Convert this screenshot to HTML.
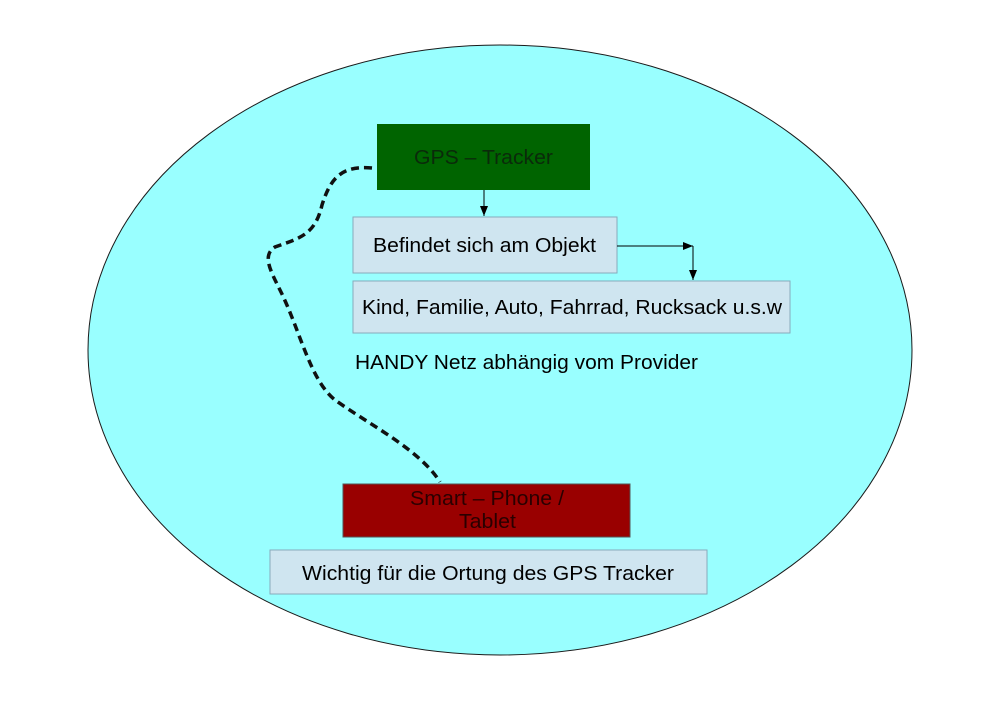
<!DOCTYPE html>
<html><head><style>
body{margin:0;width:990px;height:700px;background:#fff;overflow:hidden;font-family:"Liberation Sans",sans-serif}
</style></head><body>
<svg width="990" height="700" xmlns="http://www.w3.org/2000/svg" font-family="Liberation Sans, sans-serif">
<defs><marker id="a" markerWidth="10" markerHeight="8" refX="10" refY="4" orient="auto" markerUnits="userSpaceOnUse"><path d="M0,0 L10,4 L0,8z" fill="#000"/></marker></defs>
<ellipse cx="500" cy="350" rx="412" ry="305" fill="#99ffff" stroke="#1a1a1a" stroke-width="1"/>
<rect x="377" y="124" width="213" height="66" fill="#006400"/>
<text x="414" y="164" font-size="20" textLength="139" lengthAdjust="spacingAndGlyphs" fill="#0a2a0a">GPS – Tracker</text>
<line x1="484" y1="190" x2="484" y2="216" stroke="#000" stroke-width="1" marker-end="url(#a)"/>
<rect x="353" y="217" width="264" height="56" fill="#cfe5f0" stroke="#8ab" stroke-width="1"/>
<text x="373" y="252" font-size="20" textLength="223" lengthAdjust="spacingAndGlyphs" fill="#000">Befindet sich am Objekt</text>
<polyline points="617,246 693,246" fill="none" stroke="#000" stroke-width="1" marker-end="url(#a)"/>
<line x1="693" y1="246" x2="693" y2="280" stroke="#000" stroke-width="1" marker-end="url(#a)"/>
<rect x="353" y="281" width="437" height="52" fill="#cfe5f0" stroke="#8ab" stroke-width="1"/>
<text x="362" y="314" font-size="20" textLength="420" lengthAdjust="spacingAndGlyphs" fill="#000">Kind, Familie, Auto, Fahrrad, Rucksack u.s.w</text>
<text x="355" y="369" font-size="20" textLength="343" lengthAdjust="spacingAndGlyphs" fill="#000">HANDY Netz abhängig vom Provider</text>
<path d="M372,168 C340,165 330,180 322,205 C315,235 300,238 275,247 C262,255 270,270 280,290 C300,330 310,380 335,400 C370,425 420,450 440,482" fill="none" stroke="#111" stroke-width="3.5" stroke-dasharray="8,5"/>
<rect x="343" y="484" width="287" height="53" fill="#990000" stroke="#555" stroke-width="1"/>
<text x="410" y="505" font-size="20" textLength="154" lengthAdjust="spacingAndGlyphs" fill="#2a0000">Smart – Phone /</text>
<text x="459" y="528" font-size="20" textLength="57" lengthAdjust="spacingAndGlyphs" fill="#2a0000">Tablet</text>
<rect x="270" y="550" width="437" height="44" fill="#cfe5f0" stroke="#8ab" stroke-width="1"/>
<text x="302" y="580" font-size="20" textLength="372" lengthAdjust="spacingAndGlyphs" fill="#000">Wichtig für die Ortung des GPS Tracker</text>
</svg>
</body></html>
